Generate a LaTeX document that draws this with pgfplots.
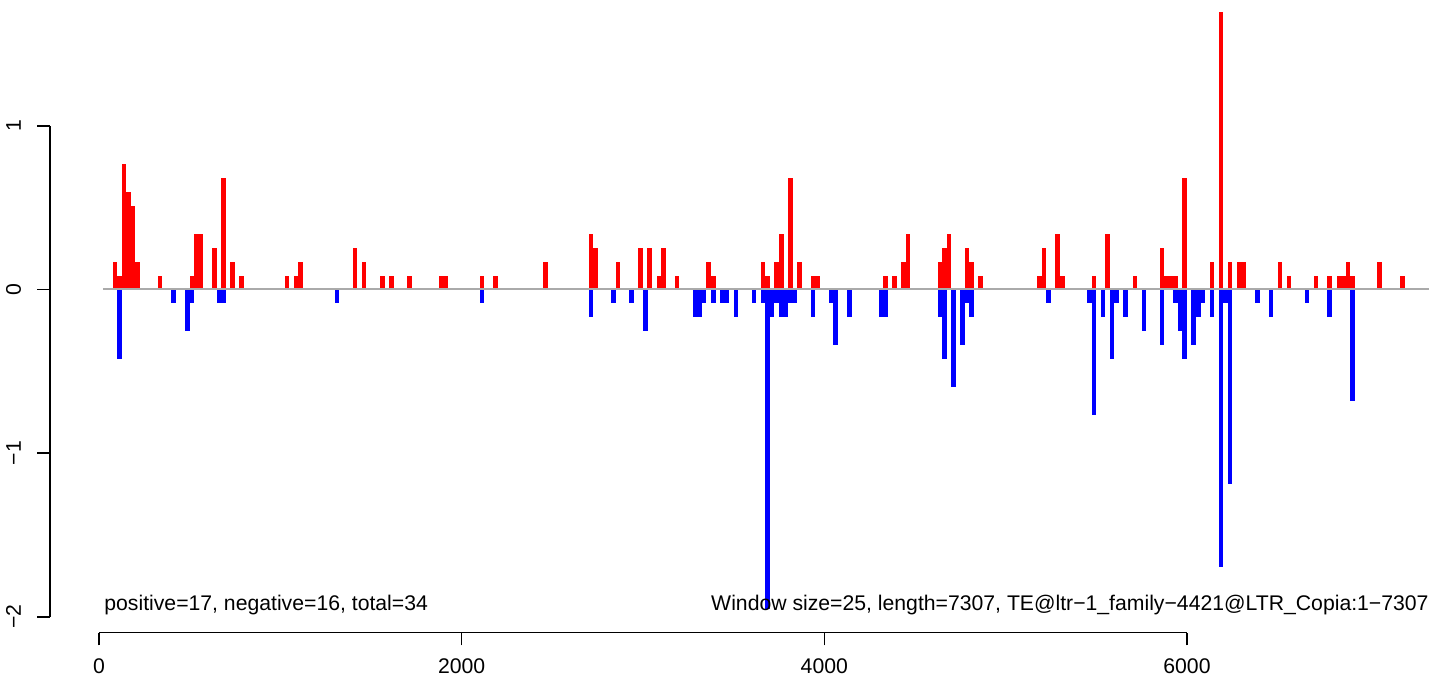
\documentclass[border=0pt]{standalone}
\usepackage{fontspec}
\setmainfont{Liberation Sans}
\usepackage{pgfplots}
\usepackage{pgfplotstable}
\pgfplotsset{compat=1.18}
\newcommand{\rf}{\fontsize{10.6pt}{12pt}\selectfont}
\definecolor{zgray}{RGB}{170,170,170}

\pgfplotstableread{
x y
87.5 0.170
112.5 0.085
137.5 0.764
162.5 0.594
187.5 0.509
212.5 0.170
337.5 0.085
512.5 0.085
537.5 0.340
562.5 0.340
637.5 0.255
687.5 0.679
737.5 0.170
787.5 0.085
1037.5 0.085
1087.5 0.085
1112.5 0.170
1412.5 0.255
1462.5 0.170
1562.5 0.085
1612.5 0.085
1712.5 0.085
1887.5 0.085
1912.5 0.085
2112.5 0.085
2187.5 0.085
2462.5 0.170
2712.5 0.340
2737.5 0.255
2862.5 0.170
2987.5 0.255
3037.5 0.255
3087.5 0.085
3112.5 0.255
3187.5 0.085
3362.5 0.170
3387.5 0.085
3662.5 0.170
3687.5 0.085
3737.5 0.170
3762.5 0.340
3812.5 0.679
3862.5 0.170
3937.5 0.085
3962.5 0.085
4337.5 0.085
4387.5 0.085
4437.5 0.170
4462.5 0.340
4637.5 0.170
4662.5 0.255
4687.5 0.340
4787.5 0.255
4812.5 0.170
4862.5 0.085
5187.5 0.085
5212.5 0.255
5287.5 0.340
5312.5 0.085
5487.5 0.085
5562.5 0.340
5712.5 0.085
5862.5 0.255
5887.5 0.085
5912.5 0.085
5937.5 0.085
5987.5 0.679
6137.5 0.170
6187.5 1.698
6237.5 0.170
6287.5 0.170
6312.5 0.170
6512.5 0.170
6562.5 0.085
6712.5 0.085
6787.5 0.085
6837.5 0.085
6862.5 0.085
6887.5 0.170
6912.5 0.085
7062.5 0.170
7187.5 0.085
}\postable

\pgfplotstableread{
x y
112.5 -0.425
412.5 -0.085
487.5 -0.255
512.5 -0.085
662.5 -0.085
687.5 -0.085
1312.5 -0.085
2112.5 -0.085
2712.5 -0.170
2837.5 -0.085
2937.5 -0.085
3012.5 -0.255
3287.5 -0.170
3312.5 -0.170
3337.5 -0.085
3387.5 -0.085
3437.5 -0.085
3462.5 -0.085
3512.5 -0.170
3612.5 -0.085
3662.5 -0.085
3687.5 -1.953
3712.5 -0.170
3737.5 -0.085
3762.5 -0.170
3787.5 -0.170
3812.5 -0.085
3837.5 -0.085
3937.5 -0.170
4037.5 -0.085
4062.5 -0.340
4137.5 -0.170
4312.5 -0.170
4337.5 -0.170
4637.5 -0.170
4662.5 -0.425
4712.5 -0.594
4762.5 -0.340
4787.5 -0.085
4812.5 -0.170
5237.5 -0.085
5462.5 -0.085
5487.5 -0.764
5537.5 -0.170
5587.5 -0.425
5612.5 -0.085
5662.5 -0.170
5762.5 -0.255
5862.5 -0.340
5937.5 -0.085
5962.5 -0.255
5987.5 -0.425
6037.5 -0.340
6062.5 -0.170
6087.5 -0.085
6137.5 -0.170
6187.5 -1.698
6212.5 -0.085
6237.5 -1.189
6387.5 -0.085
6462.5 -0.170
6662.5 -0.085
6787.5 -0.170
6912.5 -0.679
}\negtable

\begin{document}
\begin{tikzpicture}
\begin{axis}[
  at={(0,0)}, anchor=south west,
  scale only axis,
  width=689.5pt, height=316.35pt,
  xmin=-270.2, xmax=7334.7,
  ymin=-2.0965, ymax=1.7685,
  clip=false,
  axis line style={draw=none},
  xtick pos=bottom, ytick pos=left,
  tick align=outside,
  major tick length=6.3pt,
  tick style={black, line width=0.75pt},
  xtick={0,2000,4000,6000},
  xticklabels={0,2000,4000,6000},
  ytick={-2,-1,0,1},
  yticklabels={−2,−1,0,1},
  xticklabel shift=6.5pt,
  yticklabel shift=8pt,
  xticklabel style={font=\rf, anchor=north, inner sep=0pt},
  yticklabel style={font=\rf, rotate=90, anchor=south, inner sep=0pt},
  minor tick num=0,
]
\addplot[ycomb, draw=red, line width=2.3pt, mark=none] table[x=x,y=y] {\postable};
\addplot[ycomb, draw=blue, line width=2.3pt, mark=none] table[x=x,y=y] {\negtable};
\addplot[draw=zgray, line width=1pt, mark=none] coordinates {(22,0) (7334.7,0)};
\draw[line width=0.75pt] (axis cs:0,-2.0965) -- (axis cs:6000,-2.0965);
\draw[line width=0.75pt] (axis cs:-270.2,-2) -- (axis cs:-270.2,1);
\node[anchor=base west, font=\rf, inner sep=0pt] at (axis cs:27.6,-1.958) {positive=17, negative=16, total=34};
\node[anchor=base east, font=\rf, inner sep=0pt] at (axis cs:7334.7,-1.958) {Window size=25, length=7307, TE@ltr−1\_family−4421@LTR\_Copia:1−7307};
\end{axis}
\pgfresetboundingbox
\path[use as bounding box] (-25pt,-23.65pt) rectangle (689.5pt,316.35pt);
\end{tikzpicture}
\end{document}
